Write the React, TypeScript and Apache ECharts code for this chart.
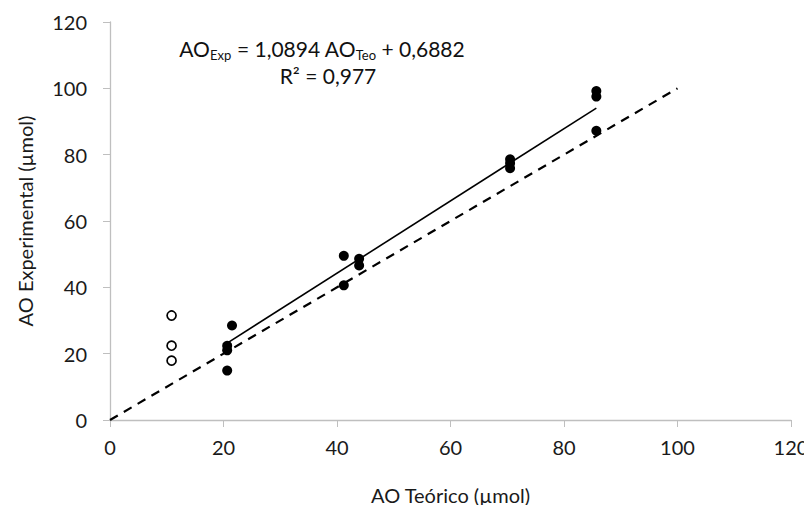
import React, { useEffect, useRef } from "react";
import * as echarts from "echarts";

const filledPoints: [number, number][] = [
  [20.65, 22.4],
  [20.65, 21.0],
  [20.65, 14.9],
  [21.5, 28.5],
  [41.2, 49.5],
  [41.2, 40.6],
  [43.9, 48.6],
  [43.9, 46.6],
  [70.5, 78.6],
  [70.5, 77.4],
  [70.5, 75.9],
  [85.7, 99.2],
  [85.7, 97.5],
  [85.7, 87.2],
];

const openPoints: [number, number][] = [
  [10.85, 31.5],
  [10.85, 22.4],
  [10.85, 17.9],
];

const slope = 1.0894;
const intercept = 0.6882;
const trendX = [20.65, 85.7];
const identityLine: [number, number][] = [
  [0, 0],
  [100, 100],
];

const xTicks = [0, 20, 40, 60, 80, 100, 120];
const yTicks = [0, 20, 40, 60, 80, 100, 120];

const FONT = "Lato, 'Open Sans', sans-serif";

export default function App() {
  const ref = useRef<HTMLDivElement>(null);
  useEffect(() => {
    if (!ref.current) return;
    const chart = echarts.init(ref.current, undefined, { renderer: "svg" });
    const trendLine = trendX.map((x) => [x, slope * x + intercept]);
    chart.setOption({
      animation: false,
      backgroundColor: "#ffffff",
      textStyle: { fontFamily: FONT },
      grid: { left: 110, right: 21, top: 22, bottom: 93, containLabel: false },
      xAxis: {
        type: "value",
        min: xTicks[0],
        max: xTicks[xTicks.length - 1],
        interval: 20,
        name: "AO Teórico (µmol)",
        nameLocation: "middle",
        nameGap: 65,
        nameTextStyle: { fontSize: 20, color: "#1a1a1a", fontFamily: FONT },
        axisLine: { lineStyle: { color: "#bfbfbf", width: 1.3 } },
        axisTick: { show: true, length: 7, lineStyle: { color: "#bfbfbf" } },
        axisLabel: { fontSize: 20, color: "#1a1a1a", margin: 17, fontFamily: FONT },
        splitLine: { show: false },
      },
      yAxis: {
        type: "value",
        min: yTicks[0],
        max: yTicks[yTicks.length - 1],
        interval: 20,
        name: "AO Experimental (µmol)",
        nameLocation: "middle",
        nameGap: 75,
        nameTextStyle: { fontSize: 20, color: "#1a1a1a", fontFamily: FONT },
        axisLine: { show: true, lineStyle: { color: "#bfbfbf", width: 1.3 } },
        axisTick: { show: true, length: 7, lineStyle: { color: "#bfbfbf" } },
        axisLabel: { fontSize: 20, color: "#1a1a1a", margin: 23, fontFamily: FONT },
        splitLine: { show: false },
      },
      series: [
        {
          type: "line",
          data: identityLine,
          symbol: "none",
          lineStyle: { color: "#000", width: 2.2, type: [9, 7] },
          z: 1,
        },
        {
          type: "line",
          data: trendLine,
          symbol: "none",
          lineStyle: { color: "#000", width: 1.6 },
          z: 2,
        },
        {
          type: "scatter",
          data: filledPoints,
          symbol: "circle",
          symbolSize: 10,
          itemStyle: { color: "#000", opacity: 1 },
          z: 3,
        },
        {
          type: "scatter",
          data: openPoints,
          symbol: "circle",
          symbolSize: 9,
          itemStyle: { color: "#fff", borderColor: "#000", borderWidth: 1.7, opacity: 1 },
          z: 3,
        },
      ],
      graphic: [
        {
          type: "text",
          x: 322,
          y: 48,
          style: {
            text: "AO{sub|Exp} = 1,0894 AO{sub|Teo} + 0,6882",
            fontSize: 21,
            fontFamily: FONT,
            fill: "#111",
            lineHeight: 26,
            align: "center",
            verticalAlign: "middle",
            rich: {
              sub: {
                fontSize: 13,
                fontFamily: FONT,
                fill: "#111",
                verticalAlign: "bottom",
                lineHeight: 26,
              },
            },
          },
        },
        {
          type: "text",
          x: 328,
          y: 75,
          style: {
            text: "R² = 0,977",
            fontSize: 21,
            fontFamily: FONT,
            fill: "#111",
            align: "center",
            verticalAlign: "middle",
          },
        },
      ],
    });
    return () => chart.dispose();
  }, []);
  return <div ref={ref} style={{ width: 812, height: 513, margin: -8 }} />;
}
